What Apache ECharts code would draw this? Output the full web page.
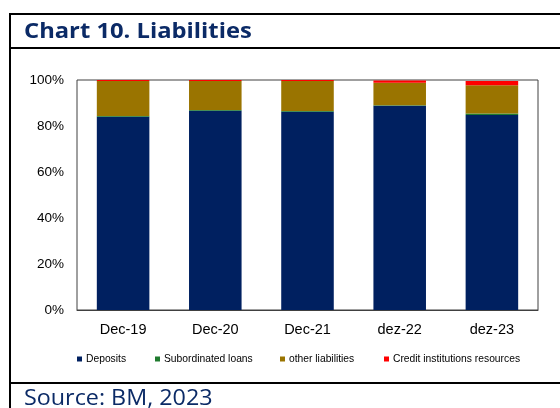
<!DOCTYPE html>
<html>
<head>
<meta charset="utf-8">
<script src="https://cdn.jsdelivr.net/npm/echarts@6/dist/echarts.min.js"></script>
<style>
  html, body { margin: 0; padding: 0; background: #fff; }
  #chart { width: 560px; height: 408px; }
</style>
</head>
<body>
<div id="chart"></div>
<script>
// Liability structure by year, percent of total
const categories = ['Dec-19', 'Dec-20', 'Dec-21', 'dez-22', 'dez-23'];
const deposits = [84.0, 86.6, 86.2, 88.8, 84.8];
const subordinatedLoans = [0.4, 0.4, 0.3, 0.2, 0.6];
const otherLiabilities = [15.2, 12.6, 13.1, 9.8, 12.3];
const creditInstitutions = [0.4, 0.4, 0.4, 1.0, 1.9];
const yTicks = [0, 20, 40, 60, 80, 100];

const seriesDefs = [
  { name: 'Deposits', data: deposits, color: '#002060' },
  { name: 'Subordinated loans', data: subordinatedLoans, color: '#1F7A2E' },
  { name: 'other liabilities', data: otherLiabilities, color: '#9A7400' },
  { name: 'Credit institutions resources', data: creditInstitutions, color: '#FF0000' }
];
const legendLeft = [77, 155, 280, 384];

const navy = '#0B2A66';
const chart = echarts.init(document.getElementById('chart'), null, { renderer: 'canvas' });

chart.setOption({
  animation: false,
  textStyle: { fontFamily: 'Liberation Sans, Arial, sans-serif' },
  grid: {
    left: 77, right: 22, top: 80, bottom: 98,
    show: true, borderColor: '#404040', borderWidth: 1, backgroundColor: '#fff'
  },
  legend: seriesDefs.map((s, i) => ({
    data: [s.name],
    left: legendLeft[i],
    top: 354,
    itemWidth: 5,
    itemHeight: 5,
    itemGap: 0,
    icon: 'rect',
    textStyle: { fontSize: 10.3, color: '#000', padding: [0, 0, 0, -1] },
    padding: 0
  })),
  xAxis: {
    type: 'category',
    data: categories,
    axisLine: { lineStyle: { color: '#404040' } },
    axisTick: { show: false },
    axisLabel: { fontSize: 14.5, color: '#000', margin: 12 }
  },
  yAxis: {
    type: 'value',
    min: yTicks[0],
    max: yTicks[yTicks.length - 1],
    interval: 20,
    splitLine: { show: false },
    axisLine: { show: false },
    axisTick: { show: false },
    axisLabel: { fontSize: 13.5, color: '#000', margin: 13, padding: [4, 0, 0, 0], formatter: '{value}%' }
  },
  series: seriesDefs.map(s => ({
    name: s.name,
    type: 'bar',
    stack: 'total',
    data: s.data,
    barWidth: '57%',
    itemStyle: { color: s.color },
    emphasis: { disabled: true }
  })),
  graphic: [
    // report frame
    { type: 'line', shape: { x1: 10, y1: 14, x2: 560, y2: 14 }, style: { stroke: '#000', lineWidth: 2 } },
    { type: 'line', shape: { x1: 10, y1: 48, x2: 560, y2: 48 }, style: { stroke: '#000', lineWidth: 2 } },
    { type: 'line', shape: { x1: 10, y1: 383, x2: 560, y2: 383 }, style: { stroke: '#000', lineWidth: 2 } },
    { type: 'line', shape: { x1: 10, y1: 13, x2: 10, y2: 408 }, style: { stroke: '#000', lineWidth: 2 } },
    {
      type: 'text', x: 24, y: 21, scaleX: 1.08,
      style: { text: 'Chart 10. Liabilities', font: 'bold 22px "Open Sans", sans-serif', fill: navy }
    },
    {
      type: 'text', x: 24, y: 388, scaleX: 1.06,
      style: { text: 'Source: BM, 2023', font: '22px "Open Sans", sans-serif', fill: navy }
    }
  ]
});
</script>
</body>
</html>
